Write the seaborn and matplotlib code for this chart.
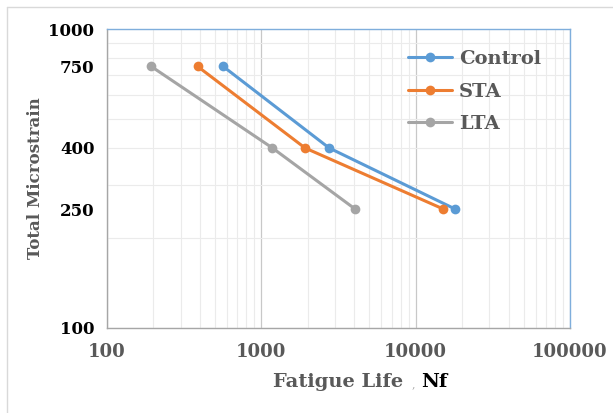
"""
Fatigue life vs total microstrain (log-log), three mix types.
"""

import pandas as pd
import matplotlib
matplotlib.use('Agg')
import matplotlib.pyplot as plt
from matplotlib.lines import Line2D
from matplotlib.ticker import FixedLocator, LogLocator, NullFormatter
import seaborn as sns

# Data
strain_levels = [750, 400, 250]
control_life = [565, 2750, 18000]
sta_life = [386, 1920, 15100]
lta_life = [193, 1180, 4050]

series_names = ['Control', 'STA', 'LTA']
series_colors = {'Control': '#5B9BD5', 'STA': '#ED7D31', 'LTA': '#A5A5A5'}

y_ticks = [100, 250, 400, 750, 1000]
x_ticks = [100, 1000, 10000, 100000]

SERIF = 'DejaVu Serif'
LABEL_GRAY = '#595959'

df = pd.concat([
    pd.DataFrame({'Nf': control_life, 'strain': strain_levels, 'mix': 'Control'}),
    pd.DataFrame({'Nf': sta_life, 'strain': strain_levels, 'mix': 'STA'}),
    pd.DataFrame({'Nf': lta_life, 'strain': strain_levels, 'mix': 'LTA'}),
], ignore_index=True)

sns.set_style('white')
plt.rcParams['font.family'] = [SERIF]

fig = plt.figure(figsize=(6.13, 4.13), dpi=100)
ax = fig.add_axes([107 / 613, 85 / 413, 463 / 613, 299 / 413])

sns.lineplot(
    data=df, x='Nf', y='strain', hue='mix', hue_order=series_names,
    palette=series_colors, marker='o', markersize=7, markeredgewidth=0,
    linewidth=2.2, sort=False, estimator=None, ax=ax, zorder=5,
)

ax.set_xscale('log')
ax.set_yscale('log')
ax.set_xlim(100, 100000)
ax.set_ylim(100, 1000)

# y: labels at specific strains, light grid at every log minor step
ax.yaxis.remove_overlapping_locs = False
ax.yaxis.set_major_locator(FixedLocator(y_ticks))
ax.set_yticklabels([str(v) for v in y_ticks])
ax.yaxis.set_minor_locator(LogLocator(base=10, subs=range(1, 10)))
ax.yaxis.set_minor_formatter(NullFormatter())

ax.xaxis.set_major_locator(FixedLocator(x_ticks))
ax.set_xticklabels([str(v) for v in x_ticks])
ax.xaxis.set_minor_locator(LogLocator(base=10, subs=range(2, 10)))
ax.xaxis.set_minor_formatter(NullFormatter())

ax.grid(False)
ax.grid(True, which='minor', axis='both', color='#EBEBEB', linewidth=0.8)
ax.grid(True, which='major', axis='x', color='#C8C8C8', linewidth=0.9)

ax.tick_params(axis='both', which='both', length=0)
ax.tick_params(axis='y', pad=9, labelsize=12, labelcolor='black')
ax.tick_params(axis='x', pad=11, labelsize=13, labelcolor=LABEL_GRAY)
for lbl in ax.get_xticklabels() + ax.get_yticklabels():
    lbl.set_fontweight('bold')

ax.spines['left'].set_color('#A6A6A6')
ax.spines['bottom'].set_color('#A6A6A6')
ax.spines['top'].set_color('#7FAEDC')
ax.spines['right'].set_color('#7FAEDC')
for s in ax.spines.values():
    s.set_linewidth(1.0)

ax.set_xlabel('')
ax.set_ylabel('')

leg = ax.legend(
    loc='upper left', bbox_to_anchor=(0.62, 0.975), frameon=False,
    handlelength=2.3, labelspacing=0.75, handletextpad=0.35, borderpad=0.2,
    prop={'family': SERIF, 'weight': 'bold', 'size': 14},
)
for t in leg.get_texts():
    t.set_color(LABEL_GRAY)

# axis titles
fig.text(36 / 613, 1 - 178 / 413, 'Total Microstrain', rotation=90,
         ha='center', va='center', fontsize=12, fontweight='bold', color=LABEL_GRAY)
fig.text(403 / 613, 1 - 382 / 413, 'Fatigue Life', ha='right', va='center',
         fontsize=14, fontweight='bold', color=LABEL_GRAY)
fig.text(413 / 613, 1 - 384 / 413, ',', ha='center', va='center',
         fontsize=8, color='#AAAAAA')
fig.text(421 / 613, 1 - 382 / 413, 'Nf', ha='left', va='center',
         fontsize=14, fontweight='bold', color='black')

# chart area border (left and top edges visible in the reference)
fig.add_artist(Line2D([7 / 613, 7 / 613], [0, 1 - 7 / 413],
                      transform=fig.transFigure, color='#D9D9D9', linewidth=1))
fig.add_artist(Line2D([7 / 613, 1], [1 - 7 / 413, 1 - 7 / 413],
                      transform=fig.transFigure, color='#D9D9D9', linewidth=1))

fig.savefig('out.png', dpi=100, facecolor='white')
plt.close(fig)
